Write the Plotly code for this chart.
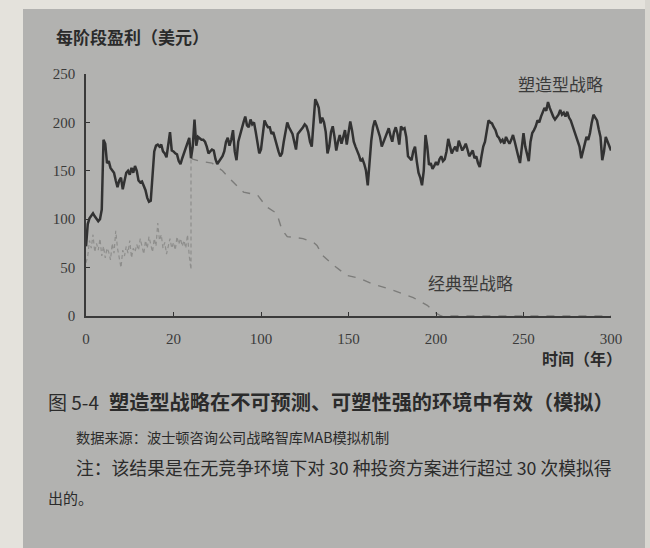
import plotly.graph_objects as go

# ---------------- data ----------------
adaptive_years = list(range(0, 301))
adaptive_values = [
    72, 95, 101, 104, 106, 103, 100, 98, 100, 110,
    182, 178, 158, 160, 153, 151, 148, 140, 133, 140,
    143, 131, 138, 148, 150, 146, 153, 148, 155, 150,
    140, 138, 139, 135, 130, 122, 118, 119, 140, 170,
    176, 177, 175, 177, 170, 168, 164, 175, 190, 171,
    170, 168, 167, 160, 157, 163, 168, 172, 177, 184,
    163, 175, 203, 176, 185, 183, 182, 182, 180, 175,
    168, 170, 172, 171, 162, 157, 160, 163, 165, 170,
    180, 184, 176, 182, 192, 170, 161, 180, 187, 196,
    200, 206, 197, 195, 203, 198, 200, 190, 180, 168,
    172, 190, 202, 198, 195, 195, 188, 190, 183, 175,
    170, 165, 168, 180, 190, 200, 195, 192, 188, 180,
    172, 188, 190, 192, 195, 198, 196, 190, 180, 175,
    200, 224, 220, 215, 199, 205, 200, 190, 168, 175,
    190, 196, 185, 171, 180, 187, 178, 184, 192, 177,
    190, 201, 192, 180, 175, 171, 166, 160, 162, 157,
    150, 135, 160, 181, 195, 202, 197, 192, 185, 175,
    180, 185, 190, 194, 186, 180, 190, 195, 188, 177,
    196, 193, 194, 185, 165, 163, 161, 170, 175, 160,
    148, 143, 135, 150, 187, 175, 156, 158, 152, 155,
    159, 156, 162, 165, 160, 162, 170, 183, 176, 168,
    172, 175, 170, 181, 176, 171, 174, 178, 172, 165,
    168, 171, 163, 165, 158, 154, 165, 175, 180, 192,
    202, 200, 199, 195, 192, 186, 184, 180, 182, 178,
    185, 181, 178, 182, 187, 180, 171, 165, 158, 175,
    189, 175, 168, 160, 180, 189, 192, 196, 202, 200,
    206, 210, 215, 212, 221, 215, 210, 206, 203, 205,
    208, 213, 208, 210, 206, 211, 205, 202, 197, 192,
    186, 182, 175, 163, 170, 178, 185, 182, 189, 200,
    208, 205, 202, 193, 185, 161, 170, 185, 180, 175,
    171,
]

classic_noisy_years = list(range(0, 61)) + [60]
classic_noisy_values = [
    55, 62, 78, 70, 84, 66, 75, 68, 80, 62,
    72, 60, 70, 66, 58, 75, 65, 88, 70, 60,
    50, 68, 62, 72, 65, 78, 60, 70, 66, 74,
    68, 80, 72, 64, 78, 70, 82, 74, 66, 80,
    72, 96, 78, 84, 70, 76, 64, 72, 80, 70,
    76, 68, 82, 74, 80, 72, 78, 70, 84, 62,
    48, 164,
]

classic_decline_years = [60, 61, 65, 72, 78, 82, 90, 98, 103, 109, 112, 115,
                         124, 130, 132, 135, 141, 149, 156, 164, 175, 187,
                         195, 200, 203, 300]
classic_decline_values = [164, 162, 160, 158, 150, 142, 128, 125, 113, 106, 89, 82,
                          80, 76, 73, 63, 53, 42, 39, 33, 27, 19,
                          11, 3, 0, 0]

x_tick_values = [0, 50, 100, 150, 200, 250, 300]
x_tick_labels = ["0", "20", "100", "150", "200", "250", "300"]
y_tick_values = [0, 50, 100, 150, 200, 250]

# ---------------- layout helpers (pixel -> paper) ----------------
W, H = 650, 548
L, R, T, B = 86, 39, 74, 232
PW, PH = W - L - R, H - T - B


def px(xp):
    return (xp - L) / PW


def py(yp):
    return (H - B - yp) / PH


PAGE = "#b2b2b0"
INK = "#2b2b2b"
CJK = "Noto Sans CJK SC"
SERIF = "Liberation Serif"

fig = go.Figure()

fig.add_trace(go.Scatter(
    x=classic_noisy_years, y=classic_noisy_values, mode="lines",
    line=dict(color="#8e8e8c", width=1.2, dash="4px,3px"),
    hoverinfo="skip", showlegend=False))

fig.add_trace(go.Scatter(
    x=classic_decline_years, y=classic_decline_values, mode="lines",
    line=dict(color="#7c7c7a", width=1.4, dash="8px,8px"),
    hoverinfo="skip", showlegend=False))

fig.add_trace(go.Scatter(
    x=adaptive_years, y=adaptive_values, mode="lines",
    line=dict(color="#323232", width=2.5),
    hoverinfo="skip", showlegend=False))

shapes = [
    # light page margins from the photo
    dict(type="rect", xref="paper", yref="paper", layer="below",
         x0=px(0), x1=px(23), y0=py(548), y1=py(0),
         fillcolor="#e4e2dc", line=dict(width=0)),
    dict(type="rect", xref="paper", yref="paper", layer="below",
         x0=px(0), x1=px(650), y0=py(9), y1=py(0),
         fillcolor="#e4e2dc", line=dict(width=0)),
    dict(type="rect", xref="paper", yref="paper", layer="below",
         x0=px(645), x1=px(650), y0=py(548), y1=py(0),
         fillcolor="#d8d6d0", line=dict(width=0)),
]

annotations = [
    dict(text="每阶段盈利（美元）", x=px(54), y=py(36), xanchor="left", yanchor="middle",
         font=dict(family=CJK, size=17, color=INK, weight="bold")),
    dict(text="时间（年）", x=px(624), y=py(358), xanchor="right", yanchor="middle",
         font=dict(family=CJK, size=16, color=INK, weight="bold")),
    dict(text="塑造型战略", x=px(560), y=py(83), xanchor="center", yanchor="middle",
         font=dict(family=CJK, size=17, color="#3a3a3a")),
    dict(text="经典型战略", x=px(470), y=py(282), xanchor="center", yanchor="middle",
         font=dict(family=CJK, size=17, color="#3a3a3a")),
    dict(text="图 5-4", x=px(46), y=py(401), xanchor="left", yanchor="middle",
         font=dict(family=CJK, size=19, color=INK)),
    dict(text="塑造型战略在不可预测、可塑性强的环境中有效（模拟）", x=px(107), y=py(401),
         xanchor="left", yanchor="middle",
         font=dict(family=CJK, size=20.2, color=INK, weight="bold")),
    dict(text="数据来源：波士顿咨询公司战略智库MAB模拟机制", x=px(74), y=py(437),
         xanchor="left", yanchor="middle",
         font=dict(family=CJK, size=14.2, color=INK)),
    dict(text="注：该结果是在无竞争环境下对 30 种投资方案进行超过 30 次模拟得", x=px(74), y=py(467),
         xanchor="left", yanchor="middle",
         font=dict(family=CJK, size=17.8, color=INK)),
    dict(text="出的。", x=px(46), y=py(497), xanchor="left", yanchor="middle",
         font=dict(family=CJK, size=15, color=INK)),
]
for a in annotations:
    a.update(xref="paper", yref="paper", showarrow=False)

fig.update_layout(
    width=W, height=H,
    margin=dict(l=L, r=R, t=T, b=B, pad=0),
    paper_bgcolor=PAGE, plot_bgcolor="rgba(0,0,0,0)",
    shapes=shapes, annotations=annotations,
    showlegend=False,
    xaxis=dict(range=[0, 300], tickmode="array", tickvals=x_tick_values,
               ticktext=x_tick_labels, ticks="inside", ticklen=4, tickwidth=1.2,
               tickcolor="#333", showline=True, linecolor="#3a3a3a", linewidth=1.6,
               showgrid=False, zeroline=False, ticklabelstandoff=8,
               tickfont=dict(family=SERIF, size=15, color="#3a3a3a")),
    yaxis=dict(range=[0, 250], tickmode="array", tickvals=y_tick_values,
               ticks="inside", ticklen=4, tickwidth=1.2, tickcolor="#333",
               showline=True, linecolor="#3a3a3a", linewidth=1.6,
               showgrid=False, zeroline=False, ticklabelstandoff=6,
               tickfont=dict(family=SERIF, size=15, color="#3a3a3a")),
)

fig.write_html("out.html", config={"displayModeBar": False},
               post_script="document.body.style.margin='0';document.body.style.overflow='hidden';")
